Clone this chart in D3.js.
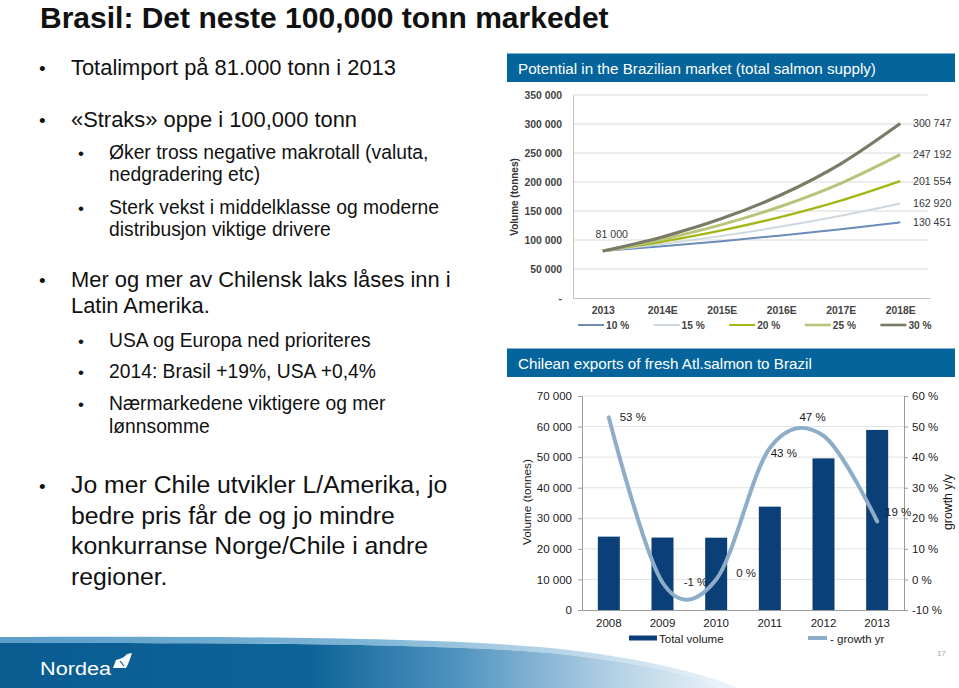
<!DOCTYPE html>
<meta charset="utf-8">
<style type="text/css">
  body { margin: 0; background: #fff; }
  svg { display: block; font-family: "Liberation Sans", Arial, sans-serif; }

  .title { font-size: 30px; font-weight: bold; fill: #111; }
  .txt { fill: #111; }

  .hdr rect { fill: #05649b; }
  .hdr text { fill: #fff; font-size: 15.2px; }

  /* top chart */
  .topc .axis text { font-size: 10.4px; font-weight: bold; fill: #444; }
  .topc .axis path { stroke: #bfbfbf; }
  .topc .grid line { stroke: #d9d9d9; stroke-width: 1; }
  .topc .end-label { font-size: 10.6px; fill: #3a3a3a; }
  .topc .legend text { font-size: 10.2px; font-weight: bold; fill: #444; }
  .topc .ytitle { font-size: 10px; font-weight: bold; fill: #333; }

  /* bottom chart */
  .bot .axis text { font-size: 11.5px; fill: #1a1a1a; }
  .bot .axis path, .bot .axis line { stroke: #9a9a9a; }
  .bot .grid line { stroke: #e3e3e3; }
  .bot .lbl { font-size: 11.5px; fill: #1a1a1a; }
  .bot .ytitle { font-size: 11.8px; fill: #1a1a1a; }
</style>
<body>
<svg width="959" height="688"></svg>
<script src="https://d3js.org/d3.v7.min.js"></script>
<script>

// ---- Potential in the Brazilian market (tonnes) ----
var years = ["2013", "2014E", "2015E", "2016E", "2017E", "2018E"];
var scenarioNames = ["10 %", "15 %", "20 %", "25 %", "30 %"];
var supply10 = [81000, 89100, 98010, 107811, 118592, 130451];
var supply15 = [81000, 93150, 107123, 123191, 141670, 162920];
var supply20 = [81000, 97200, 116640, 139968, 167962, 201554];
var supply25 = [81000, 101250, 126563, 158203, 197754, 247192];
var supply30 = [81000, 105300, 136890, 177957, 231344, 300747];
var supplyTicks = [0, 50000, 100000, 150000, 200000, 250000, 300000, 350000];

// ---- Chilean exports of fresh Atl. salmon to Brazil ----
var exportYears = ["2008", "2009", "2010", "2011", "2012", "2013"];
var exportVolume = [24000, 23700, 23650, 33800, 49600, 58900];
var growthYr = [53, -1, 0, 43, 47, 19];
var volumeTicks = [0, 10000, 20000, 30000, 40000, 50000, 60000, 70000];
var pctTicks = [-10, 0, 10, 20, 30, 40, 50, 60];

var svg = d3.select("svg");
var fmt = d3.formatLocale({decimal: ",", thousands: " ", grouping: [3], currency: ["", ""]}).format(",");

/* footer swoosh */
var defs = svg.append("defs");
var g1 = defs.append("linearGradient").attr("id", "footDark")
  .attr("gradientUnits", "userSpaceOnUse").attr("x1", 0).attr("x2", 735).attr("y1", 0).attr("y2", 0);
[[0, "#0a5c91"], [0.42, "#0d6398"], [0.62, "#4f93bf"], [0.82, "#aecde3"], [1, "#f0f6fa"]].forEach(function(s) {
  g1.append("stop").attr("offset", s[0]).attr("stop-color", s[1]);
});
var g2 = defs.append("linearGradient").attr("id", "footLight")
  .attr("gradientUnits", "userSpaceOnUse").attr("x1", 0).attr("x2", 740).attr("y1", 0).attr("y2", 0);
[[0, "#5b9ec8"], [0.5, "#7fb5d6"], [1, "#eef5fa"]].forEach(function(s) {
  g2.append("stop").attr("offset", s[0]).attr("stop-color", s[1]);
});
svg.append("path")
  .attr("d", "M0,637 C200,636 450,637 560,649 C640,658 700,672 738,688 L725,688 C690,673 630,661 550,653 C440,643 200,643 0,643 Z")
  .attr("fill", "url(#footLight)");
svg.append("path")
  .attr("d", "M0,643 C200,643 440,643 550,653 C630,661 690,673 725,688 L0,688 Z")
  .attr("fill", "url(#footDark)");

// Nordea logo
svg.append("text").attr("x", 40).attr("y", 675).attr("textLength", 71)
  .attr("lengthAdjust", "spacingAndGlyphs")
  .style("font-size", "17.5px").style("fill", "#fff").text("Nordea");
svg.append("path").attr("d", "M113,668 L116,660 C121,659 125,657 127,654 L132,653 C130,659 128,665 126,668 Z")
  .attr("fill", "#fff");
svg.append("path").attr("d", "M120,661 L124,666").attr("stroke", "#0a5c91").attr("stroke-width", 1.2);

/* title + bullet text */
svg.append("text").attr("class", "title").attr("x", 40).attr("y", 28)
  .text("Brasil: Det neste 100,000 tonn markedet");

var lines = [
  {t: "Totalimport på 81.000 tonn i 2013", y: 75, lv: 1, b: true},
  {t: "«Straks» oppe i 100,000 tonn", y: 127, lv: 1, b: true},
  {t: "Øker tross negative makrotall (valuta,", y: 159, lv: 2, b: true},
  {t: "nedgradering etc)", y: 181, lv: 2},
  {t: "Sterk vekst i middelklasse og moderne", y: 214, lv: 2, b: true},
  {t: "distribusjon viktige drivere", y: 236, lv: 2},
  {t: "Mer og mer av Chilensk laks låses inn i", y: 287, lv: 1, b: true},
  {t: "Latin Amerika.", y: 313, lv: 1},
  {t: "USA og Europa ned prioriteres", y: 347, lv: 2, b: true},
  {t: "2014: Brasil +19%, USA +0,4%", y: 378, lv: 2, b: true},
  {t: "Nærmarkedene viktigere og mer", y: 410, lv: 2, b: true},
  {t: "lønnsomme", y: 433, lv: 2},
  {t: "Jo mer Chile utvikler L/Amerika, jo", y: 493, lv: 0, b: true},
  {t: "bedre pris får de og jo mindre", y: 523.5, lv: 0},
  {t: "konkurranse Norge/Chile i andre", y: 554, lv: 0},
  {t: "regioner.", y: 584.5, lv: 0}
];
var lvSize = {0: 24.8, 1: 21.9, 2: 19.3};
var lvX = {0: 71, 1: 71, 2: 109};
var lvBx = {0: 39, 1: 39, 2: 78};
lines.forEach(function(l) {
  svg.append("text").attr("class", "txt").attr("x", lvX[l.lv]).attr("y", l.y)
    .style("font-size", lvSize[l.lv] + "px").text(l.t);
  if (l.b) {
    svg.append("text").attr("class", "txt").attr("x", lvBx[l.lv]).attr("y", l.y)
      .style("font-size", (l.lv == 2 ? 17 : 19) + "px").text("•");
  }
});

/* header bars */
function header(y, label) {
  var h = svg.append("g").attr("class", "hdr");
  h.append("rect").attr("x", 507).attr("y", y).attr("width", 448).attr("height", 28.5);
  h.append("text").attr("x", 518).attr("y", y + 20).text(label);
}
header(53.5, "Potential in the Brazilian market (total salmon supply)");
header(348.5, "Chilean exports of fresh Atl.salmon to Brazil");

/* ---------- top chart ---------- */
var topG = svg.append("g").attr("class", "topc");
var tx = d3.scalePoint().domain(years).range([573, 930]).padding(0.5);
var ty = d3.scaleLinear().domain([0, 350000]).range([298, 95]);

topG.append("g").attr("class", "grid")
  .selectAll("line").data(supplyTicks.filter(function(d) { return d > 0; }))
  .enter().append("line")
    .attr("x1", 573).attr("x2", 928)
    .attr("y1", function(d) { return ty(d); }).attr("y2", function(d) { return ty(d); });

topG.append("g").attr("class", "axis")
  .attr("transform", "translate(573,0)")
  .call(d3.axisLeft(ty).tickValues(supplyTicks).tickSize(0).tickPadding(11)
    .tickFormat(function(d) { return d === 0 ? "-" : fmt(d); }));

topG.append("g").attr("class", "axis")
  .attr("transform", "translate(0,298)")
  .call(d3.axisBottom(tx).tickSize(0).tickPadding(9));

topG.append("text").attr("class", "ytitle")
  .attr("transform", "translate(518,197) rotate(-90)")
  .attr("text-anchor", "middle").text("Volume (tonnes)");

var scenarios = [supply10, supply15, supply20, supply25, supply30];
var scColors = ["#6b8cb8", "#cfd8df", "#a3b614", "#b8c47a", "#7b7a66"];
var scWidths = [2, 2, 2.4, 3, 3.2];

var line = d3.line()
  .x(function(d, i) { return tx(years[i]); })
  .y(function(d) { return ty(d); })
  .curve(d3.curveMonotoneX);

topG.selectAll(".series").data(scenarios).enter().append("path")
  .attr("class", "series")
  .attr("fill", "none")
  .attr("stroke", function(d, i) { return scColors[i]; })
  .attr("stroke-width", function(d, i) { return scWidths[i]; })
  .attr("d", line);

topG.selectAll(".end-label").data(scenarios).enter().append("text")
  .attr("class", "end-label")
  .attr("x", 913)
  .attr("y", function(d) { return ty(d[d.length - 1]); })
  .attr("dy", "0.35em")
  .text(function(d) { return fmt(d[d.length - 1]); });

topG.append("text").attr("class", "end-label")
  .attr("x", tx(years[0]) + 9).attr("y", ty(supply10[0]) - 13)
  .attr("text-anchor", "middle")
  .text(fmt(supply10[0]));

var leg = topG.append("g").attr("class", "legend");
scenarioNames.forEach(function(n, i) {
  var x0 = 578 + i * 75.6;
  leg.append("line").attr("x1", x0).attr("x2", x0 + 26).attr("y1", 325).attr("y2", 325)
    .attr("stroke", scColors[i]).attr("stroke-width", scWidths[i] < 2.5 ? 2 : 2.6);
  leg.append("text").attr("x", x0 + 28).attr("y", 328.5).text(n);
});

/* ---------- bottom chart ---------- */
var bot = svg.append("g").attr("class", "bot");
var bx = d3.scaleBand().domain(exportYears).range([582, 904]).paddingInner(0.59).paddingOuter(0.295);
var by = d3.scaleLinear().domain([0, 70000]).range([610, 396]);
var bp = d3.scaleLinear().domain([-10, 60]).range([610, 396]);

bot.append("g").attr("class", "grid")
  .selectAll("line").data(volumeTicks.filter(function(d) { return d > 0; }))
  .enter().append("line")
    .attr("x1", 582).attr("x2", 904)
    .attr("y1", function(d) { return by(d); }).attr("y2", function(d) { return by(d); });

bot.selectAll("rect.bar").data(exportVolume).enter().append("rect")
  .attr("class", "bar")
  .attr("x", function(d, i) { return bx(exportYears[i]); })
  .attr("y", function(d) { return by(d); })
  .attr("width", bx.bandwidth())
  .attr("height", function(d) { return by(0) - by(d); })
  .attr("fill", "#0b3f78");

bot.append("g").attr("class", "axis")
  .attr("transform", "translate(582,0)")
  .call(d3.axisLeft(by).tickValues(volumeTicks).tickSize(4).tickPadding(6).tickFormat(fmt));

bot.append("g").attr("class", "axis")
  .attr("transform", "translate(904,0)")
  .call(d3.axisRight(bp).tickValues(pctTicks).tickSize(4).tickPadding(4)
    .tickFormat(function(d) { return d + " %"; }));

bot.append("g").attr("class", "axis")
  .attr("transform", "translate(0,610)")
  .call(d3.axisBottom(bx).tickSize(0).tickPadding(9));

var gline = d3.line()
  .x(function(d, i) { return bx(exportYears[i]) + bx.bandwidth() / 2; })
  .y(function(d) { return bp(d); })
  .curve(d3.curveCardinal.tension(0));

bot.append("path").datum(growthYr)
  .attr("fill", "none")
  .attr("stroke", "#8eadc9")
  .attr("stroke-width", 4)
  .attr("stroke-linecap", "round")
  .attr("d", gline);

// label offsets from each point (dx, dy)
var labelOffsets = [[24, 4], [33, 4], [30, -2], [14, 9], [-11, -15], [21, -5]];
bot.selectAll(".lbl.g").data(growthYr).enter().append("text")
  .attr("class", "lbl g")
  .attr("text-anchor", "middle")
  .attr("x", function(d, i) { return bx(exportYears[i]) + bx.bandwidth() / 2 + labelOffsets[i][0]; })
  .attr("y", function(d, i) { return bp(d) + labelOffsets[i][1]; })
  .text(function(d) { return d + " %"; });

bot.append("text").attr("class", "ytitle")
  .attr("transform", "translate(531,502) rotate(-90)")
  .attr("text-anchor", "middle").text("Volume (tonnes)");
bot.append("text").attr("class", "ytitle")
  .attr("transform", "translate(952,502) rotate(-90)")
  .attr("text-anchor", "middle").style("font-size", "12.3px").text("growth y/y");

// legend
bot.append("rect").attr("x", 629).attr("y", 635.5).attr("width", 28).attr("height", 5).attr("fill", "#0b3f78");
bot.append("text").attr("class", "lbl").attr("x", 659).attr("y", 642.5).text("Total  volume");
bot.append("line").attr("x1", 808).attr("x2", 827).attr("y1", 638).attr("y2", 638)
  .attr("stroke", "#8eadc9").attr("stroke-width", 4);
bot.append("text").attr("class", "lbl").attr("x", 830).attr("y", 642.5).text("- growth yr");

// page number
svg.append("text").attr("x", 937).attr("y", 656).style("font-size", "8px").style("fill", "#aaa").text("17");

</script>
</body>
